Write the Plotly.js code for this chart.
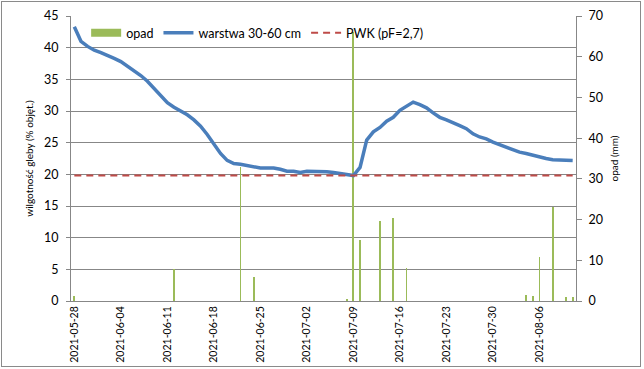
<!DOCTYPE html>
<html>
<head>
<meta charset="utf-8">
<script src="https://cdn.plot.ly/plotly-3.0.1.min.js"></script>
<style>
  html, body { margin:0; padding:0; background:#fff; }
  #chart { width:644px; height:369px; }
  #frame { position:absolute; left:1px; top:1px; width:640px; height:366px; border:1px solid #8a8a8a; box-sizing:border-box; pointer-events:none; }
</style>
</head>
<body>
<div id="chart"></div>
<div id="frame"></div>
<script>
// Categories: daily dates
const dates = [
  '2021-05-28','2021-05-29','2021-05-30','2021-05-31',
  '2021-06-01','2021-06-02','2021-06-03','2021-06-04','2021-06-05','2021-06-06','2021-06-07','2021-06-08','2021-06-09','2021-06-10',
  '2021-06-11','2021-06-12','2021-06-13','2021-06-14','2021-06-15','2021-06-16','2021-06-17','2021-06-18','2021-06-19','2021-06-20',
  '2021-06-21','2021-06-22','2021-06-23','2021-06-24','2021-06-25','2021-06-26','2021-06-27','2021-06-28','2021-06-29','2021-06-30',
  '2021-07-01','2021-07-02','2021-07-03','2021-07-04','2021-07-05','2021-07-06','2021-07-07','2021-07-08','2021-07-09','2021-07-10',
  '2021-07-11','2021-07-12','2021-07-13','2021-07-14','2021-07-15','2021-07-16','2021-07-17','2021-07-18','2021-07-19','2021-07-20',
  '2021-07-21','2021-07-22','2021-07-23','2021-07-24','2021-07-25','2021-07-26','2021-07-27','2021-07-28','2021-07-29','2021-07-30',
  '2021-07-31','2021-08-01','2021-08-02','2021-08-03','2021-08-04','2021-08-05','2021-08-06','2021-08-07','2021-08-08','2021-08-09',
  '2021-08-10','2021-08-11'
];

// Soil moisture, layer 30-60 cm (% vol.)
const warstwa = [
  43.3, 41.0, 40.2, 39.6,
  39.2, 38.8, 38.3, 37.8, 37.1, 36.3, 35.6, 34.7, 33.5, 32.3,
  31.3, 30.6, 30.0, 29.4, 28.6, 27.6, 26.3, 24.7, 23.3, 22.2,
  21.7, 21.6, 21.4, 21.2, 21.0, 21.0, 21.0, 20.8, 20.5, 20.5,
  20.3, 20.5, 20.5, 20.4, 20.4, 20.3, 20.1, 19.9, 19.8, 21.1,
  25.4, 26.7, 27.4, 28.4, 29.0, 30.1, 30.7, 31.4, 31.0, 30.5,
  29.7, 29.0, 28.6, 28.2, 27.7, 27.2, 26.4, 25.9, 25.6, 25.1,
  24.7, 24.3, 23.9, 23.5, 23.3, 23.0, 22.7, 22.5, 22.3, 22.3,
  22.2, 22.2
];

// Precipitation (mm)
const opadDates = ['2021-05-28','2021-06-12','2021-06-22','2021-06-24','2021-07-08','2021-07-09','2021-07-10','2021-07-13','2021-07-15','2021-07-17','2021-08-04','2021-08-05','2021-08-06','2021-08-08','2021-08-10','2021-08-11'];
const opadMm    = [1.2, 7.8, 33.0, 5.9, 0.6, 66.0, 15.0, 19.6, 20.5, 8.2, 1.5, 1.2, 10.7, 23.2, 1.0, 1.0];

// PWK threshold (pF=2,7)
const pwkDates = ['2021-05-28','2021-08-11'];
const pwk = [19.8, 19.8];

// Tick labels
const tickDates = ['2021-05-28','2021-06-04','2021-06-11','2021-06-18','2021-06-25','2021-07-02','2021-07-09','2021-07-16','2021-07-23','2021-07-30','2021-08-06'];

const GREEN = '#9BBB59', BLUE = '#4A7EBB', RED = '#BE4B48', GRID = '#878787';
const FONT = 'Lato, "Liberation Sans", Arial, sans-serif';

const traces = [
  { type:'bar', x:opadDates, y:opadMm, yaxis:'y', name:'opad', showlegend:false,
    marker:{color:GREEN, line:{width:0}}, width:0.28, hoverinfo:'skip' },
  { type:'scatter', mode:'lines', x:[null], y:[null], yaxis:'y', name:'opad',
    line:{color:GREEN, width:8}, hoverinfo:'skip' },
  { type:'scatter', mode:'lines', x:dates, y:warstwa, yaxis:'y2', name:'warstwa 30-60 cm',
    line:{color:BLUE, width:3.5} },
  { type:'scatter', mode:'lines', x:pwkDates, y:pwk, yaxis:'y2', name:'PWK (pF=2,7)',
    line:{color:RED, width:2, dash:'7px,5px'} }
];

const layout = {
  width:644, height:369,
  margin:{l:71, r:68, t:16, b:68, pad:0},
  paper_bgcolor:'#ffffff', plot_bgcolor:'#ffffff',
  font:{family:FONT, size:12, color:'#000'},
  showlegend:true,
  legend:{orientation:'h', x:0.03, xanchor:'left', y:0.94, yanchor:'middle',
          bgcolor:'rgba(0,0,0,0)', font:{family:FONT, size:12.5}, tracegroupgap:0},
  bargap:0,
  xaxis:{type:'category', categoryorder:'array', categoryarray:dates, range:[-0.5, 75.5],
         tickmode:'array', tickvals:tickDates, ticktext:tickDates, tickangle:-90,
         showline:true, linecolor:GRID, linewidth:1, showgrid:false, zeroline:false,
         ticks:'', tickfont:{family:FONT, size:10.5}},
  yaxis:{side:'right', range:[0,70], dtick:10, showgrid:false, zeroline:false,
         showline:true, linecolor:GRID, ticks:'outside', ticklen:5, tickcolor:GRID,
         tickfont:{family:FONT, size:12.5}, ticklabelstandoff:4,
         title:{text:'opad (mm)', font:{family:FONT, size:10}, standoff:8}},
  yaxis2:{overlaying:'y', side:'left', range:[0,45], dtick:5, showgrid:true, gridcolor:GRID, gridwidth:1,
          zeroline:false, showline:true, linecolor:GRID, ticks:'outside', ticklen:4, tickcolor:GRID,
          tickfont:{family:FONT, size:12.5}, ticklabelstandoff:5,
          title:{text:'wilgotność gleby (% objęt.)', font:{family:FONT, size:10}, standoff:8}}
};

Plotly.newPlot('chart', traces, layout, {displayModeBar:false, staticPlot:true});
</script>
</body>
</html>
